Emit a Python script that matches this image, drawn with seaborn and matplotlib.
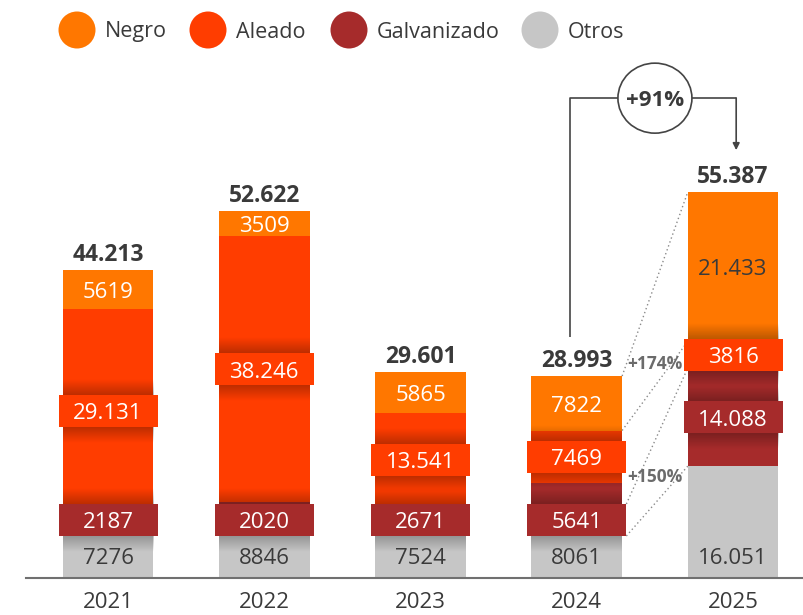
import numpy as np
import pandas as pd
import matplotlib
matplotlib.use("Agg")
import matplotlib.pyplot as plt
import seaborn as sns
from matplotlib.patches import Ellipse, Rectangle

# ---------------- data ----------------
years = ["2021", "2022", "2023", "2024", "2025"]
otros = [7276, 8846, 7524, 8061, 16051]
galvanizado = [2187, 2020, 2671, 5641, 14088]
aleado = [29131, 38246, 13541, 7469, 3816]
negro = [5619, 3509, 5865, 7822, 21433]
totals = [44213, 52622, 29601, 28993, 55387]
legend_names = ["Negro", "Aleado", "Galvanizado", "Otros"]
growth_total = "+91%"
growth_negro = "+174%"
growth_galvanizado = "+150%"

# ---------------- style ----------------
COL = {"Negro": "#FF7700", "Aleado": "#FF3D00",
       "Galvanizado": "#A62B2B", "Otros": "#C6C6C6"}
DARK = "#3A3A3A"
LINE = "#444444"

sns.set_theme(style="white")
plt.rcParams["font.family"] = ["Open Sans", "DejaVu Sans"]

W, H = 804, 615
fig = plt.figure(figsize=(W / 100, H / 100), dpi=100)
ax = fig.add_axes([26 / W, 37 / H, 778 / W, 578 / H])

stack_order = ["Otros", "Galvanizado", "Aleado", "Negro"]
values = {"Otros": otros, "Galvanizado": galvanizado,
          "Aleado": aleado, "Negro": negro}
df = pd.DataFrame({"year": years, **values})
cum = df[stack_order].cumsum(axis=1)
bottoms = cum - df[stack_order]

BW = 0.58
BOXW = 0.634
for s in reversed(stack_order):
    layer = pd.DataFrame({"year": years, "h": cum[s].values})
    sns.barplot(data=layer, x="year", y="h", order=years, color=COL[s],
                saturation=1, width=BW, errorbar=None, ax=ax,
                linewidth=0, zorder=2)

XMIN, XMAX = -0.525, 4.454
YTOP = max(totals) * 1.498
ax.set_xlim(XMIN, XMAX)
ax.set_ylim(0, YTOP)
UPP = YTOP / 578.0  # data units per pixel (vertical)
XPP = (XMAX - XMIN) / 778.0
BH = 32 * UPP       # label box height
GAP = 36 * UPP      # min distance between stacked labels


def fmt(v):
    return f"{v:,}".replace(",", ".") if v >= 10000 else str(v)


def shadow(x0, x1, y_edge, up, length, alpha=0.26):
    n = 40
    a = np.linspace(alpha, 0, n)
    if not up:
        a = a[::-1]
    img = np.zeros((n, 1, 4))
    img[..., 3] = a[:, None]
    ext = (x0, x1, y_edge, y_edge + length) if up else (x0, x1, y_edge - length, y_edge)
    ax.imshow(img, extent=ext, origin="lower", aspect="auto", zorder=3,
              interpolation="bilinear")


last = len(years) - 1
label_y = {}
for i, yr in enumerate(years):
    prev = None
    for s in stack_order:
        v = values[s][i]
        c = bottoms[s][i] + v / 2
        if s == "Otros":
            c = min(c, 22 * UPP)
        elif s == "Galvanizado" and v < 1.5 * BH:
            c = min(c, prev + GAP)
        label_y[(s, i)] = c
        prev = c
        if s in ("Aleado", "Galvanizado"):
            shadow(i - BW / 2, i + BW / 2, c + BH / 2, True, 16 * UPP)
            shadow(i - BW / 2, i + BW / 2, c - BH / 2, False, 16 * UPP)
            ax.add_patch(Rectangle((i - BOXW / 2, c - BH / 2), BOXW, BH,
                                   facecolor=COL[s], edgecolor="none", zorder=4))
        dark = s == "Otros" or (s == "Negro" and i == last)
        ax.annotate(fmt(v), (i, c), xytext=(0, -3), textcoords="offset pixels",
                    ha="center", va="center", fontsize=16,
                    color=DARK if dark else "white", zorder=5)
    ax.annotate(fmt(totals[i]), (i, totals[i]), xytext=(0, 3),
                textcoords="offset pixels", ha="center", va="bottom",
                fontsize=16.5, fontweight="bold", color=DARK, zorder=5)

# ---------------- comparison 2024 -> 2025 ----------------
ia, ib = years.index("2024"), years.index("2025")
x0n, x1n = ia + BW / 2, ib - BW / 2
for yy0, yy1 in [(cum["Negro"][ia], cum["Negro"][ib]),
                 (bottoms["Negro"][ia], bottoms["Negro"][ib])]:
    ax.plot([x0n, x1n], [yy0, yy1], ls=(0, (1, 2)), color="#8A8A8A", lw=1, zorder=1)
x0g = ia + BOXW / 2
gy = label_y[("Galvanizado", ia)]
for yy0, yy1 in [(gy + BH / 2, cum["Galvanizado"][ib]),
                 (gy - BH / 2, bottoms["Galvanizado"][ib])]:
    ax.plot([x0g, x1n], [yy0, yy1], ls=(0, (1, 2)), color="#8A8A8A", lw=1, zorder=1)

ax.annotate(growth_negro, (ia + 0.5, cum["Negro"][ia] + 14 * UPP),
            xytext=(0, -2), textcoords="offset pixels", ha="center",
            va="center", fontsize=12.5, fontweight="bold", color="#6B6B6B", zorder=6)
ax.annotate(growth_galvanizado, (ia + 0.5, cum["Galvanizado"][ia] + 8 * UPP),
            xytext=(0, -2), textcoords="offset pixels", ha="center",
            va="center", fontsize=12.5, fontweight="bold", color="#6B6B6B", zorder=6)

XL = ia - 0.045
XR = ib + 0.02
YB = totals[ib] + 94 * UPP
cw = 74 * XPP
ax.plot([XL, XL, ia + 0.5 - cw / 2], [totals[ia] + 39 * UPP, YB, YB],
        color=LINE, lw=1.2, zorder=6, solid_capstyle="butt")
ax.plot([ia + 0.5 + cw / 2, XR], [YB, YB], color=LINE, lw=1.2, zorder=6)
ax.annotate("", xy=(XR, totals[ib] + 42 * UPP), xytext=(XR, YB),
            arrowprops=dict(arrowstyle="-|>", color=LINE, lw=1.2,
                            mutation_scale=10, shrinkA=0, shrinkB=0), zorder=6)
ax.add_patch(Ellipse((ia + 0.5, YB), cw, 70 * UPP, facecolor="white",
                     edgecolor=LINE, lw=1.2, zorder=7, clip_on=False))
ax.annotate(growth_total, (ia + 0.5, YB), xytext=(0, -2),
            textcoords="offset pixels", ha="center", va="center", fontsize=16,
            fontweight="bold", color=DARK, zorder=8)

# ---------------- axes ----------------
for sp in ["top", "left", "right"]:
    ax.spines[sp].set_visible(False)
ax.spines["bottom"].set_color("#707070")
ax.spines["bottom"].set_linewidth(1.5)
ax.set_yticks([])
ax.set_xlabel("")
ax.set_ylabel("")
ax.tick_params(axis="x", length=0, pad=10, labelsize=16, labelcolor=DARK)

# ---------------- legend ----------------
leg_circle_x = [77, 208, 349, 540]
leg_text_x = [105, 236, 377, 568]
LY = 30
for name, cx, tx in zip(legend_names, leg_circle_x, leg_text_x):
    fig.add_artist(Ellipse((cx / W, 1 - LY / H), 37 / W, 37 / H,
                           transform=fig.transFigure, facecolor=COL[name],
                           edgecolor="none"))
    fig.text(tx / W, 1 - (LY + 2) / H, name, ha="left", va="center",
             fontsize=15.5, color=DARK)

fig.savefig("out.png", dpi=100)
